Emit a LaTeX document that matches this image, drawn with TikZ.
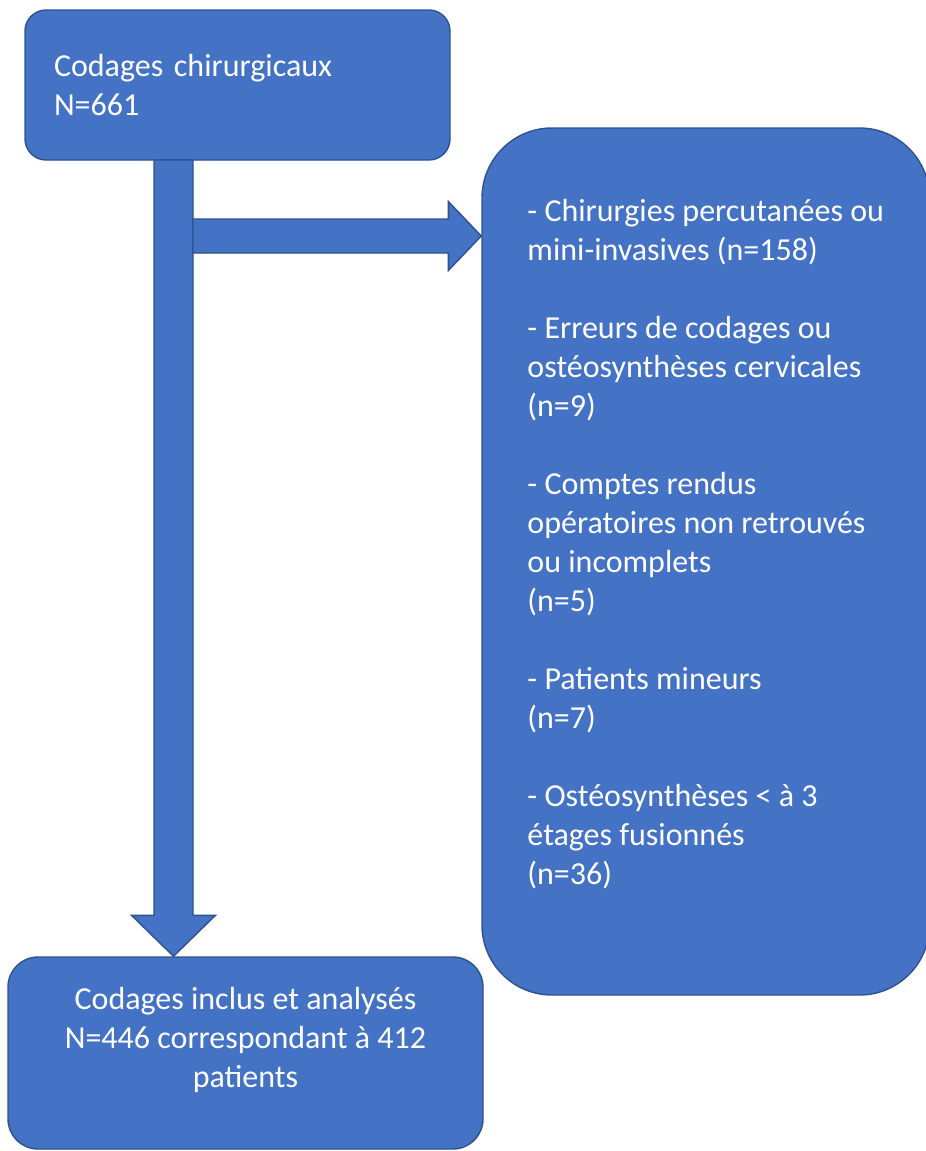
\documentclass[tikz,border=0pt]{standalone}
\usepackage{fontspec}
\setmainfont{Carlito}
\usetikzlibrary{calc}
\definecolor{bleuoffice}{HTML}{4472C4}
\definecolor{bordbleu}{HTML}{2F528F}
\tikzset{
  boite/.style={draw=bordbleu, fill=bleuoffice, line width=1.4pt, text=white,
    font=\fontsize{32}{39}\selectfont},
  fleche/.style={draw=bordbleu, fill=bleuoffice, line width=1.4pt, line join=miter}
}
\begin{document}
\begin{tikzpicture}[x=1pt,y=-1pt]
\useasboundingbox (0,0) rectangle (926,1151);

% boites
\node[boite, rounded corners=21pt, minimum width=425pt, minimum height=150pt,
  text width=367pt, inner xsep=29pt, align=left] (codage) at (237.5,85)
  {Codages chirurgicaux\\N=661};
\node[boite, rounded corners=70pt, minimum width=447.5pt, minimum height=867pt,
  inner xsep=44pt, align=left] (exclus) at (705.75,561.5)
  {- Chirurgies percutanées ou\\mini-invasives (n=158)\\[39pt]
   - Erreurs de codages ou\\ostéosynthèses cervicales\\(n=9)\\[39pt]
   - Comptes rendus\\opératoires non retrouvés\\ou incomplets\\(n=5)\\[39pt]
   - Patients mineurs\\(n=7)\\[39pt]
   - Ostéosynthèses < à 3\\étages fusionnés\\(n=36)\\ \mbox{}};
\node[boite, rounded corners=30pt, minimum width=475pt, minimum height=192pt,
  align=center] (inclus) at (245.5,1053)
  {Codages inclus et analysés\\N=446 correspondant à 412\\patients\\[-8pt]\mbox{}};

% fleches
\coordinate (vdep) at (173.5,160);
\coordinate (vfin) at (vdep |- inclus.north);
\coordinate (hdep) at (193,236);
\coordinate (hfin) at (hdep -| exclus.west);

\draw[fleche] ($(vdep)+(-19.5,0)$) -- ($(vfin)+(-19.5,-41)$) -- ($(vfin)+(-42,-41)$)
  -- (vfin) -- ($(vfin)+(42,-41)$) -- ($(vfin)+(19.5,-41)$) -- ($(vdep)+(19.5,0)$) -- cycle;
\draw[fleche] ($(hdep)+(0,-17)$) -- ($(hfin)+(-33,-17)$) -- ($(hfin)+(-33,-34.5)$)
  -- (hfin) -- ($(hfin)+(-33,34.5)$) -- ($(hfin)+(-33,17)$) -- ($(hdep)+(0,17)$) -- cycle;
\end{tikzpicture}
\end{document}
